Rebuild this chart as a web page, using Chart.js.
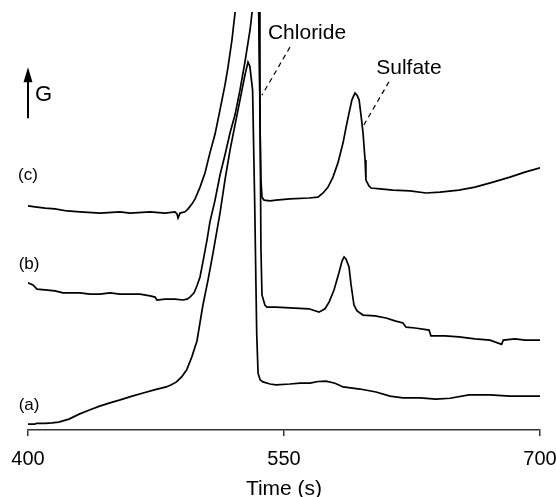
<!DOCTYPE html>
<html>
<head>
<meta charset="utf-8">
<script src="https://cdn.jsdelivr.net/npm/chart.js@4/dist/chart.umd.min.js"></script>
<style>
html,body{margin:0;padding:0;background:#fff;}
canvas{display:block;}
</style>
</head>
<body>
<canvas id="chart" width="556" height="497"></canvas>
<script>
const xTicks = [400, 550, 700];

// trace (a)
const timeA = [400,404,405,410,414,418,424,430,436,442,448,454,461,468,474,481,484,487,490,493,496,499,502.5,505.5,508.4,512.5,515.4,518.4,521.3,524.2,527.1,528.9,530.0,531.6,532.8,534.0,534.8,536,537.7,541.8,545.3,553.5,559.4,565.2,570,574.6,579.9,584.6,594.5,603.9,612.1,619.7,629.7,639.1,647.3,658.4,670.7,682.4,700];
const gA = [1.4,1.4,1.6,1.6,1.7,1.9,2.6,3.8,4.8,5.7,6.5,7.2,8.1,8.9,9.6,10.3,10.8,11.5,12.7,14.4,17.5,21.3,29.9,35.9,42.3,51.9,59.8,67.0,73.0,78.9,84.9,88.0,87.0,81.3,55.0,23.2,13.6,12.0,11.5,11.0,10.8,11.0,11.2,11.2,11.6,11.7,11.2,10.3,9.8,9.1,8.1,7.7,7.7,7.4,7.6,8.4,8.4,8.1,8.1];

// trace (b)
const timeB = [400,402.9,405.3,410,415.8,420.5,430.5,436.3,442.2,448,453.9,459.8,465.6,471.5,474.4,475.6,480.3,486.1,490.8,493.2,494.9,497.3,499,500.8,502.5,504.9,506.6,509.6,512.5,515.4,518.4,521.3,524.2,527.1,530.1,531.8,534.8,535.9,536.5,537.1,538.8,540,545.3,553.5,564.6,570.5,574,576.4,579.3,582.2,584,585.2,586.3,588.1,589.3,591,592.8,596.3,603.3,609.8,615,619.7,621.5,626.8,635,636.1,644.3,652.5,661.9,670.7,677.5,678.5,685.4,691.2,700];
const gB = [35.2,34.7,33.7,33.5,33.3,32.8,32.8,32.5,32.5,32.8,32.5,32.5,32.5,32.1,31.8,31.1,31.3,31.3,31.1,31.3,31.8,32.8,34.5,36.6,40.2,45.5,49.8,55.0,61.0,65.8,71.1,75.4,81.3,88.0,95.7,101.7,110.3,79.0,43.1,32.3,29.9,29.4,29.4,29.2,29.0,28.2,29.0,30.6,33.5,37.6,40.4,41.4,40.9,39.0,34.7,29.9,28.5,27.5,27.3,26.8,26.1,25.6,24.6,24.4,23.9,22.5,22.5,22.3,21.8,21.5,20.5,21.5,21.8,21.5,21.5];

// trace (c)
const timeC = [400,404.1,410,415.8,422.9,430.5,442.2,453.9,459.8,471.5,480.3,486.1,487.3,487.9,489.1,492,493.8,496.1,497.9,500.8,503.7,506.6,509.6,512.5,515.4,517.2,519.5,521.3,524.2,534.2,535.4,535.9,536.5,537.1,538.3,541.8,545.3,553.5,564.6,569.9,572.9,575.8,578.7,581.6,584.6,586.3,588.1,589.8,591.6,592.8,594,595.1,596.3,597.5,598,599.8,601,606.3,613.9,623.8,633.2,641.4,652.5,661.9,672.5,682.4,691.2,700];
const gC = [53.6,53.4,53.1,52.9,52.4,52.2,51.9,52.2,51.9,52.2,51.9,52.2,51.7,50.7,51.9,52.2,52.9,54.1,55.3,58.1,61.5,66.3,70.8,76.6,82.5,86.8,93.3,99.8,108.9,140.4,102.9,74.2,59.8,55.7,55.0,54.8,55.0,55.3,55.5,55.7,56.7,58.1,60.5,63.9,68.7,72.3,75.8,79.0,80.6,80.1,79.0,75.4,71.1,64.6,59.8,58.4,57.9,57.7,57.4,57.2,56.7,56.9,57.4,58.1,59.3,60.5,61.7,62.7];

// labels, placed in data units
const traceNames = ['(a)','(b)','(c)'];
const traceNameAt = [[400.6,6.0],[400.6,39.7],[400,61.0]];
const peakNames = ['Chloride','Sulfate'];
const peakTextAt = [[563.5,95.0],[623.2,86.6]];
const peakLeaders = [[553.5,91.6,537.1,80.1],[611.5,83.3,595.7,72.2]];
const arrowAt = [400, 74.6, 86.8];

const FONT = '"Liberation Sans", Arial, sans-serif';
const pts = (t,g)=>t.map((x,i)=>({x, y:g[i]}));
const trace = (t,g)=>({data:pts(t,g), borderColor:'#000', borderWidth:1.7, pointRadius:0, tension:0, fill:false});

const annotate = {
  id:'annotate',
  afterDraw(chart){
    const {ctx, scales:{x,y}} = chart;
    ctx.save();
    ctx.fillStyle = '#000'; ctx.strokeStyle = '#000';
    ctx.textBaseline = 'middle';

    ctx.font = '17px '+FONT; ctx.textAlign = 'center';
    traceNames.forEach((s,i)=>ctx.fillText(s, x.getPixelForValue(traceNameAt[i][0]), y.getPixelForValue(traceNameAt[i][1])));

    ctx.font = '21px '+FONT;
    peakNames.forEach((s,i)=>ctx.fillText(s, x.getPixelForValue(peakTextAt[i][0]), y.getPixelForValue(peakTextAt[i][1])));

    ctx.setLineDash([5,4]); ctx.lineWidth = 1.2;
    peakLeaders.forEach(l=>{
      ctx.beginPath();
      ctx.moveTo(x.getPixelForValue(l[0]), y.getPixelForValue(l[1]));
      ctx.lineTo(x.getPixelForValue(l[2]), y.getPixelForValue(l[3]));
      ctx.stroke();
    });
    ctx.setLineDash([]);

    // G arrow
    const ax = x.getPixelForValue(arrowAt[0]), y0 = y.getPixelForValue(arrowAt[1]), y1 = y.getPixelForValue(arrowAt[2]);
    ctx.lineWidth = 2;
    ctx.beginPath(); ctx.moveTo(ax, y0); ctx.lineTo(ax, y1+12); ctx.stroke();
    ctx.beginPath(); ctx.moveTo(ax, y1); ctx.lineTo(ax-4.5, y1+15); ctx.lineTo(ax+4.5, y1+15); ctx.closePath(); ctx.fill();
    ctx.font = '22px '+FONT; ctx.textAlign = 'left';
    ctx.fillText('G', ax+7, (y0+y1)/2+2);
    ctx.restore();
  }
};

new Chart(document.getElementById('chart'), {
  type:'line',
  data:{ datasets:[trace(timeA,gA), trace(timeB,gB), trace(timeC,gC)] },
  options:{
    responsive:false, animation:false,
    layout:{padding:{left:28, right:16, top:12, bottom:0}},
    plugins:{legend:{display:false}, tooltip:{enabled:false}},
    scales:{
      x:{
        type:'linear', min:400, max:700,
        afterBuildTicks: s=>{ s.ticks = xTicks.map(v=>({value:v})); },
        afterFit: s=>{ s.height = 67; s.paddingLeft = 0; s.paddingRight = 0; },
        ticks:{color:'#000', font:{family:FONT, size:20}, padding:11, maxRotation:0},
        grid:{drawOnChartArea:false, drawTicks:true, tickLength:6, color:'#333', lineWidth:1.5},
        border:{color:'#333', width:1.5},
        title:{display:true, text:'Time (s)', color:'#000', font:{family:FONT, size:21, lineHeight:1}, padding:{top:0, bottom:-3}}
      },
      y:{display:false, min:0, max:100}
    }
  },
  plugins:[annotate]
});
</script>
</body>
</html>
